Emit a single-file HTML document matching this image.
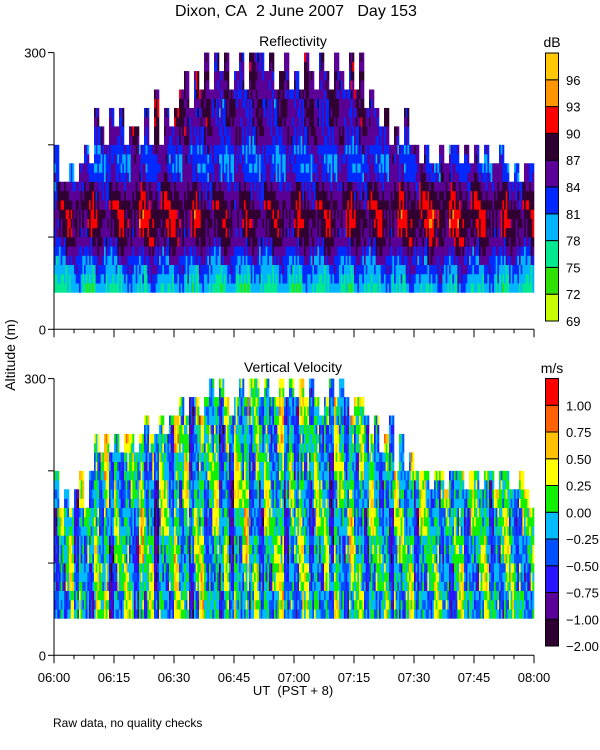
<!DOCTYPE html>
<html><head><meta charset="utf-8"><style>
body{margin:0;background:#fff}
svg{display:block;font-family:"Liberation Sans",sans-serif}
</style></head><body>
<svg id="c" width="600" height="750" viewBox="0 0 600 750">
<text x="296" y="16" font-size="16" text-anchor="middle">Dixon, CA&#160;&#160;2 June 2007&#160;&#160;&#160;Day 153</text>
<text x="293" y="46" font-size="14" text-anchor="middle">Reflectivity</text>
<text x="293" y="372" font-size="14" text-anchor="middle">Vertical Velocity</text>
<text x="552" y="47" font-size="14" text-anchor="middle">dB</text>
<text x="552" y="373" font-size="14" text-anchor="middle">m/s</text>
<text transform="translate(15,355) rotate(-90)" font-size="14" text-anchor="middle">Altitude (m)</text>
<text x="293" y="695" font-size="13" text-anchor="middle">UT&#160;&#160;(PST + 8)</text>
<text x="53" y="727" font-size="12">Raw data, no quality checks</text>
<g id="g1"></g>
<g id="g2"></g>
<g id="axes"></g>
</svg>
<script>
// ---- data ----
const reflTops=[200,160,160,180,160,180,200,180,240,220,200,240,220,240,200,220,220,200,240,200,260,200,240,220,240,260,280,240,280,260,300,260,300,280,300,260,280,300,260,300,300,300,280,300,260,280,300,260,280,260,300,280,260,300,280,260,300,280,260,300,260,300,240,260,240,220,240,200,220,200,240,200,200,180,200,180,180,200,180,200,200,180,200,180,200,180,200,180,180,200,180,160,180,160,180,180];
const velTops=[200,160,180,160,180,200,160,200,240,220,240,220,240,220,240,240,220,240,260,240,240,260,240,260,260,280,260,280,280,260,280,300,280,300,280,260,280,300,280,300,300,280,300,280,280,300,280,300,280,300,280,300,280,260,280,300,280,300,280,260,280,280,260,240,260,220,240,260,200,240,200,220,200,200,200,180,200,200,180,200,200,200,180,200,200,180,200,200,180,200,200,180,180,200,180,160];
const reflProfile=[77.5,79,80.5,82,84,86,87,88,88,87.5,86.5,85,83,82,82,82.5,84.5,85,85.5,85.5,85.5,85.5,86,86,86,86];
const reflColOffset=[-1,0,0,-0.5,0,0.5,0,0,0.5,0,-0.5,0,0.5,0.5,1,1,1.5,1.5,1,1.5,1.5,1,1.5,1,1.5,1,1,0.5,1,0.5,0.5,0,0,-0.5,0,0,-0.5,0,-0.5,0,0,-0.5,0,0,-0.5,0,0,-0.5,0,0,0.5,0,0.5,0,0,0.5,0,0,0.5,0,0.5,0.5,0,0.5,1,1,0.5,1,1,1.5,1,1.5,1.5,2,1.5,2,1.5,2,1.5,1.5,2,1.5,1.5,1,1.5,1,1,0.5,1,0.5,0.5,0,0.5,0,0,0];
const velColOffset=[-0.3,0.1,-0.2,0.2,-0.4,0.1,0,-0.3,0.2,-0.1,0.3,-0.5,0.1,-0.2,0.2,0,-0.3,0.3,-0.1,0.1,-0.6,0.2,0,-0.2,0.3,-0.1,0.2,-0.4,0.1,0.3,-0.2,0,0.2,-0.3,0.1,-0.5,0.2,0,0.3,-0.2,0.1,-0.3,0.2,-0.1,0,0.3,-0.4,0.1,-0.2,0.2,0,-0.3,0.2,-0.1,0.1,-0.5,0.2,0,-0.2,0.3,-0.1,0.1,-0.3,0.2,0,-0.2,0.1,-0.4,0.2,0,-0.1,0.2,-0.3,0.1,0,-0.2,0.2,-0.1,0.1,-0.3,0,0.2,-0.2,0.1,-0.1,0,0.2,-0.3,0.1,-0.1,0.2,0,-0.2,0.1,-0.1,0];
const texture=[0,-2,1,3,-1,2,-3,0,1,-2,2,-1,3,-3,0,1,-1,2,-2,0,3,-1,1,-3,2,0,-2,1,-1,3,0];
const reflLabels=["69","72","75","78","81","84","87","90","93","96"];
const velLabels=["-2.00","-1.00","-0.75","-0.50","-0.25","0.00","0.25","0.50","0.75","1.00"];
const velEdges=[-2,-1,-0.75,-0.5,-0.25,0,0.25,0.5,0.75,1];
const timeLabels=["06:00","06:15","06:30","06:45","07:00","07:15","07:30","07:45","08:00"];
const reflColors=["#c8ff00","#30e000","#00e890","#00b4ff","#0028ff","#5a0096","#300030","#ff0000","#ff9600","#ffc800"];
const velColors=["#300030","#5a0096","#2814ff","#0050ff","#00bcff","#10f000","#ffff00","#ffc000","#ff6000","#ff0000"];
// ---- scales ----
const X0=54,X1=534,PX=480/120;
const xs=m=>X0+m*PX;
const K=276.7/300;
const y1=a=>329.3-a*K, y2=a=>655.3-a*K;
const NS="http://www.w3.org/2000/svg";
function mk(t,at,p){const e=document.createElementNS(NS,t);for(const k in at)e.setAttribute(k,at[k]);p.appendChild(e);return e;}
function reflBin(v){return Math.max(0,Math.min(9,Math.floor((v-69)/3)));}
function velBin(v){let b=0;for(let i=0;i<10;i++)if(v>=velEdges[i])b=i;return b;}
const g1=document.getElementById('g1'),g2=document.getElementById('g2');
const colW=120/reflTops.length, SUB=3;
for(let c=0;c<reflTops.length;c++){
  for(let s=0;s<SUB;s++){
    const xa=xs(c*colW+s*colW/SUB),w=colW/SUB*PX;
    const sc=c*SUB+s;
    for(let r=0;r<26;r++){
      const alt=40+r*10;
      const ti=texture[(sc*7+Math.floor(r/3)*2)%texture.length];
      const tj=texture[(sc*3+r)%texture.length];
      if(alt<reflTops[c]){
        const v=reflProfile[r]+reflColOffset[c]+ti*1.0+tj*0.4;
        const e=mk('rect',{x:xa.toFixed(2),y:y1(alt+10).toFixed(2),width:(w+0.3).toFixed(2),height:(10*K+0.3).toFixed(2),fill:reflColors[reflBin(v)]},g1);
        
        
      }
      if(alt<velTops[c]){
        const v=velColOffset[c]-0.1+ti*0.15+tj*0.06+(alt>velTops[c]-20?0.2:0);
        const e=mk('rect',{x:xa.toFixed(2),y:y2(alt+10).toFixed(2),width:(w+0.3).toFixed(2),height:(10*K+0.3).toFixed(2),fill:velColors[velBin(v)]},g2);
        
        
      }
    }
  }
}
// ---- axes ----
const ax=document.getElementById('axes');
[[y1,'top'],[y2,'bottom']].forEach(([yf,nm])=>{
  mk('line',{x1:X0,y1:yf(300),x2:X0,y2:yf(0),stroke:'#000'},ax);
  mk('line',{x1:X0,y1:yf(0),x2:X1,y2:yf(0),stroke:'#000'},ax);
  [0,100,200,300].forEach(a=>mk('line',{x1:X0-6,y1:yf(a),x2:X0,y2:yf(a),stroke:'#000'},ax));
  const t0=mk('text',{x:X0-8,y:yf(0)+5,'font-size':13,'text-anchor':'end'},ax);t0.textContent='0';
  const t3=mk('text',{x:X0-8,y:yf(300)+5,'font-size':13,'text-anchor':'end'},ax);t3.textContent='300';
  for(let m=0;m<=120;m+=5){
    mk('line',{x1:xs(m),y1:yf(0),x2:xs(m),y2:yf(0)+(m%15===0?8:4),stroke:'#000'},ax);
  }
});
timeLabels.forEach((l,i)=>{const t=mk('text',{x:xs(i*15),y:682,'font-size':13,'text-anchor':'middle'},ax);t.textContent=l;
});
// ---- colorbars ----
function cbar(top,bot,cols,labs,name){
  const h=(bot-top)/10;
  for(let i=0;i<10;i++){
    const yb=bot-i*h;
    const r=mk('rect',{x:545.5,y:yb-h,width:13,height:h,fill:cols[i],stroke:'#000','stroke-width':1},ax);
    
    const t=mk('text',{x:566,y:yb+5,'font-size':13},ax);t.textContent=labs[i].replace('-','\u2212');
    
  }
}
cbar(53,321,reflColors,reflLabels,'db-colorbar');
cbar(378.5,646,velColors,velLabels,'velocity-colorbar');
</script>
</body></html>
